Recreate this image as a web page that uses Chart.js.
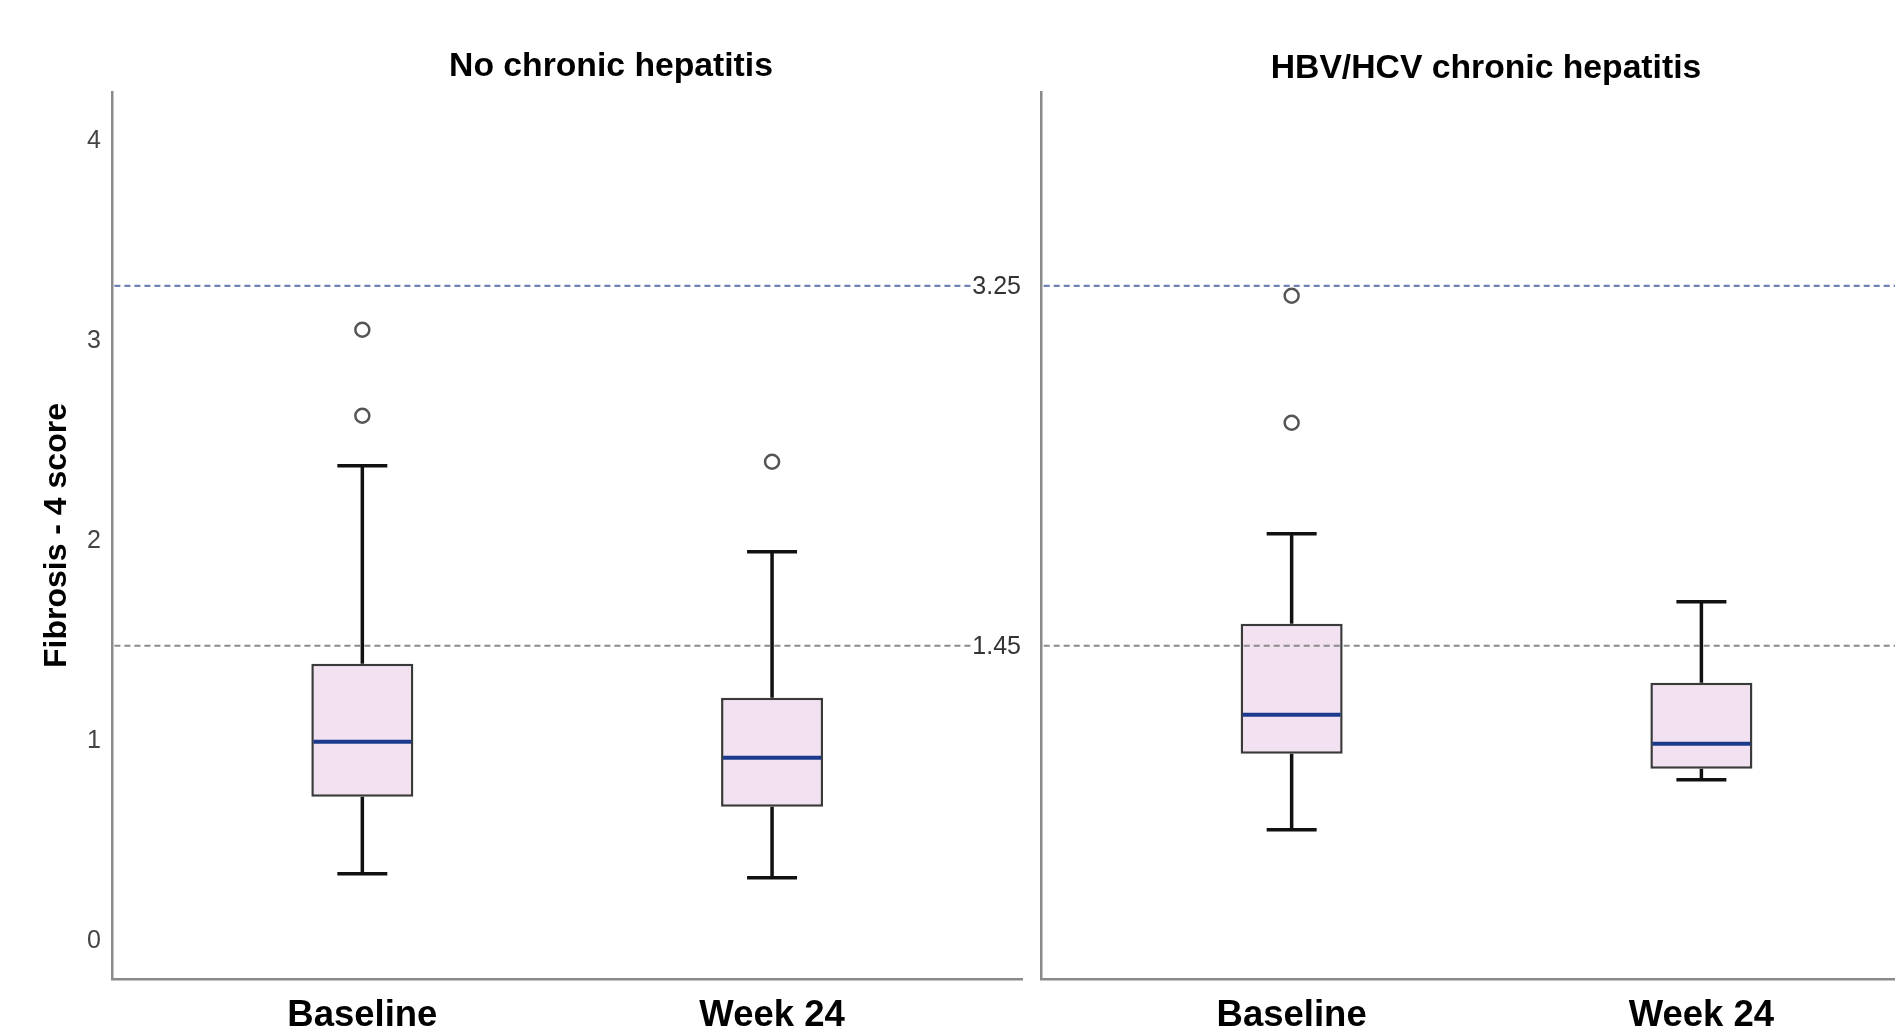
<!DOCTYPE html>
<html><head><meta charset="utf-8">
<script src="https://cdn.jsdelivr.net/npm/chart.js@4.4.1/dist/chart.umd.min.js"></script>
<style>
html,body{margin:0;padding:0;background:#fff;overflow:hidden;}
#wrap{position:relative;width:1895px;height:1026px;background:#fff;}
canvas{position:absolute;top:0;}
#c1{left:0;} #c2{left:1032px;}
</style></head><body>
<div id="wrap"><canvas id="c1" width="1032" height="1026"></canvas><canvas id="c2" width="863" height="1026"></canvas></div>
<script>
// ---------- data ----------
const categories = ['Baseline', 'Week 24'];
const panelTitles = ['No chronic hepatitis', 'HBV/HCV chronic hepatitis'];
const yAxisTitle = 'Fibrosis - 4 score';
const yTicks = [0, 1, 2, 3, 4];
const cutoffs = [3.25, 1.45];
const cutoffLabels = ['3.25', '1.45'];

// Panel 1: No chronic hepatitis
const noHepLow = [0.31, 0.29];
const noHepQ1 = [0.695, 0.645];
const noHepMedian = [0.97, 0.89];
const noHepQ3 = [1.36, 1.19];
const noHepHigh = [2.35, 1.92];
const noHepOutliers = [[3.03, 2.60], [2.37]];

// Panel 2: HBV/HCV chronic hepatitis
const hepLow = [0.53, 0.78];
const hepQ1 = [0.91, 0.835];
const hepMedian = [1.105, 0.96];
const hepQ3 = [1.56, 1.265];
const hepHigh = [2.01, 1.67];
const hepOutliers = [[3.20, 2.565], []];

// ---------- styling ----------
const FONT = "'Liberation Sans', Arial, sans-serif";
const AXIS_COLOR = '#8a8a8a';
const BOX_FILL = '#F2E1F0';
const BOX_BORDER = '#3a3a3a';
const MEDIAN_COLOR = '#1B3A8C';
const WHISKER_COLOR = '#111111';
const CUTOFF_COLORS = ['#6F82B8', '#8a8a8a'];

const boxPlugin = {
  id: 'boxWhisker',
  beforeDatasetsDraw(chart, args, opts) {
    const ctx = chart.ctx, xs = chart.scales.x, ys = chart.scales.y;
    ctx.save();
    ctx.strokeStyle = WHISKER_COLOR;
    ctx.lineWidth = 3.5;
    ctx.lineCap = 'butt';
    opts.low.forEach((lo, i) => {
      const cx = xs.getPixelForValue(i);
      const capL = xs.getPixelForValue(i - opts.capHalf);
      const capR = xs.getPixelForValue(i + opts.capHalf);
      ctx.beginPath();
      ctx.moveTo(cx, ys.getPixelForValue(opts.q3[i]));
      ctx.lineTo(cx, ys.getPixelForValue(opts.high[i]));
      ctx.moveTo(cx, ys.getPixelForValue(opts.q1[i]));
      ctx.lineTo(cx, ys.getPixelForValue(lo));
      ctx.moveTo(capL, ys.getPixelForValue(opts.high[i]));
      ctx.lineTo(capR, ys.getPixelForValue(opts.high[i]));
      ctx.moveTo(capL, ys.getPixelForValue(lo));
      ctx.lineTo(capR, ys.getPixelForValue(lo));
      ctx.stroke();
    });
    ctx.restore();
  },
  afterDatasetsDraw(chart, args, opts) {
    const ctx = chart.ctx, ys = chart.scales.y, area = chart.chartArea;
    const meta = chart.getDatasetMeta(opts.boxDataset);
    ctx.save();
    // medians
    ctx.strokeStyle = MEDIAN_COLOR;
    ctx.lineWidth = 4;
    meta.data.forEach((el, i) => {
      const y = ys.getPixelForValue(opts.median[i]);
      ctx.beginPath();
      ctx.moveTo(el.x - el.width / 2 + 2, y);
      ctx.lineTo(el.x + el.width / 2 - 2, y);
      ctx.stroke();
    });
    // cut-off reference lines
    ctx.lineWidth = 2.2;
    ctx.setLineDash([6, 4]);
    cutoffs.forEach((c, k) => {
      const y = ys.getPixelForValue(c);
      ctx.strokeStyle = CUTOFF_COLORS[k];
      ctx.beginPath();
      ctx.moveTo(area.left + 2, y);
      ctx.lineTo(area.right, y);
      ctx.stroke();
    });
    ctx.setLineDash([]);
    if (opts.showCutoffLabels) {
      ctx.font = '25px ' + FONT;
      ctx.textAlign = 'right';
      ctx.textBaseline = 'middle';
      cutoffs.forEach((c, k) => {
        const y = ys.getPixelForValue(c);
        const w = ctx.measureText(cutoffLabels[k]).width;
        ctx.fillStyle = '#fff';
        ctx.fillRect(area.right - w - 2, y - 12, w + 2, 24);
        ctx.fillStyle = '#333';
        ctx.fillText(cutoffLabels[k], area.right - 1, y + 1);
      });
    }
    // panel title
    ctx.fillStyle = '#000';
    ctx.font = 'bold 33.7px ' + FONT;
    ctx.textAlign = 'center';
    ctx.textBaseline = 'alphabetic';
    ctx.fillText(opts.title, opts.titleX, opts.titleY);
    ctx.restore();
  }
};

function makeChart(canvasId, p) {
  const boxData = categories.map((c, i) => ({x: i, y: [p.q1[i], p.q3[i]]}));
  const outlierData = [];
  p.outliers.forEach((arr, i) => arr.forEach(v => outlierData.push({x: i, y: v})));
  return new Chart(document.getElementById(canvasId), {
    type: 'bar',
    data: {
      datasets: [
        {
          type: 'scatter',
          data: outlierData,
          pointRadius: 7,
          pointBorderWidth: 2.5,
          pointBackgroundColor: '#fff',
          pointBorderColor: '#555',
          pointHoverRadius: 7
        },
        {
          type: 'bar',
          data: boxData,
          backgroundColor: BOX_FILL,
          borderColor: BOX_BORDER,
          borderWidth: 2.5,
          borderSkipped: false,
          categoryPercentage: 1,
          barPercentage: 0.249
        }
      ]
    },
    options: {
      responsive: false,
      animation: false,
      devicePixelRatio: 1,
      events: [],
      layout: {autoPadding: false, padding: {top: 91.8, right: p.padRight, bottom: 0, left: 0}},
      plugins: {
        legend: {display: false},
        tooltip: {enabled: false},
        boxWhisker: {
          low: p.low, q1: p.q1, median: p.median, q3: p.q3, high: p.high,
          capHalf: 0.061, boxDataset: 1,
          showCutoffLabels: p.showCutoffLabels,
          title: p.title, titleX: p.titleX, titleY: p.titleY
        }
      },
      scales: {
        x: {
          type: 'linear',
          min: -0.61,
          max: p.xMax,
          offset: false,
          grid: {display: false, drawTicks: false, offset: false},
          border: {display: true, color: AXIS_COLOR, width: 2.5},
          afterBuildTicks: s => { s.ticks = categories.map((c, i) => ({value: i})); },
          afterFit: s => { s.height = 46.7; },
          ticks: {
            autoSkip: false, maxRotation: 0, minRotation: 0,
            padding: 15,
            color: '#000',
            font: {family: FONT, size: 36.5, weight: 'bold'},
            callback: v => categories[v]
          }
        },
        y: {
          type: 'linear',
          min: -0.218,
          max: 4.22,
          grid: {display: false, drawTicks: false},
          border: {display: true, color: AXIS_COLOR, width: 2.5},
          afterBuildTicks: s => { s.ticks = yTicks.map(v => ({value: v})); },
          afterFit: s => { s.width = p.yWidth; },
          ticks: {
            display: p.showYTicks,
            padding: 11.5,
            labelOffset: 5,
            color: '#444',
            font: {family: FONT, size: 25},
            callback: v => String(v)
          },
          title: {
            display: p.showYTitle,
            text: yAxisTitle,
            color: '#000',
            font: {family: FONT, size: 32, weight: 'bold'},
            padding: {top: 37.8, bottom: 0}
          }
        }
      }
    },
    plugins: [boxPlugin]
  });
}

makeChart('c1', {
  low: noHepLow, q1: noHepQ1, median: noHepMedian, q3: noHepQ3, high: noHepHigh,
  outliers: noHepOutliers, xMax: 1.61, padRight: 10, yWidth: 112.4,
  showYTicks: true, showYTitle: true, showCutoffLabels: true,
  title: panelTitles[0], titleX: 611, titleY: 76
});
makeChart('c2', {
  low: hepLow, q1: hepQ1, median: hepMedian, q3: hepQ3, high: hepHigh,
  outliers: hepOutliers, xMax: 1.4725, padRight: 0, yWidth: 9.7,
  showYTicks: false, showYTitle: false, showCutoffLabels: false,
  title: panelTitles[1], titleX: 454, titleY: 78
});
</script>
</body></html>
